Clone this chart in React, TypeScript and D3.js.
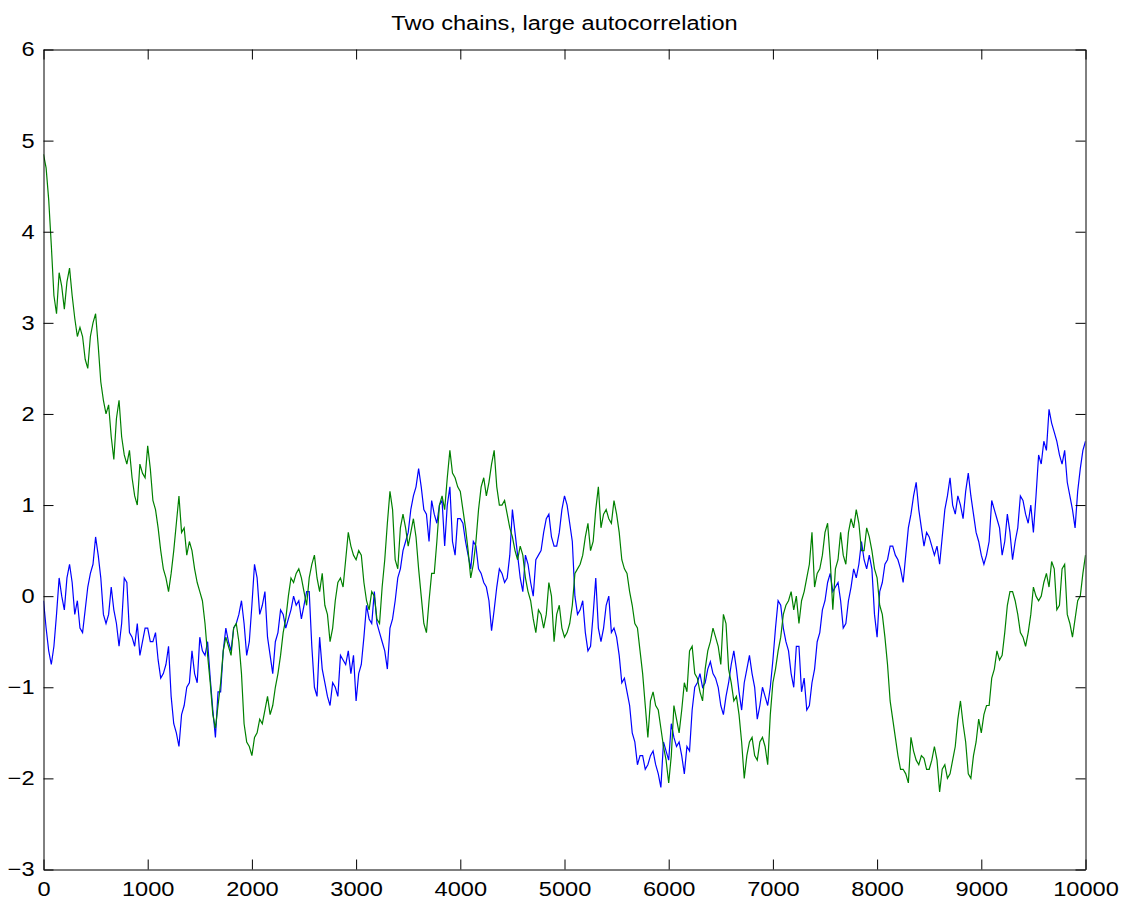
import React, { useEffect, useRef } from 'react';
import * as d3 from 'd3';

// Two MCMC chains. Each chain is stored as two interleaved sample sets:
// states at iterations 0, 50, 100, ... and states at iterations 25, 75, 125, ...
const TITLE = 'Two chains, large autocorrelation';
const STEP = 50;
const X_TICKS = [0, 1000, 2000, 3000, 4000, 5000, 6000, 7000, 8000, 9000, 10000];
const Y_TICKS = [-3, -2, -1, 0, 1, 2, 3, 4, 5, 6];

const blueAt50 = [
  -0.05, -0.6, -0.55, 0.2, -0.15, 0.35, -0.2, -0.35, -0.15, 0.25, 0.65,
  0.2, -0.3, 0.1, -0.3, -0.3, 0.15, -0.45, -0.3, -0.5, -0.35,
  -0.5, -0.7, -0.85, -0.55, -1.4, -1.65, -1.2, -0.95, -0.85, -0.45,
  -0.65, -0.9, -1.55, -1.05, -0.35, -0.6, -0.3, -0.05, -0.65, -0.1,
  0.2, -0.1, -0.45, -0.85, -0.4, -0.2, -0.25, 0.0, -0.05, -0.1,
  0.05, -1.0, -0.45, -0.95, -1.2, -1.0, -0.65, -0.75, -0.85, -1.15,
  -0.75, -0.1, -0.3, -0.3, -0.5, -0.8, -0.25, 0.2, 0.5, 0.7,
  1.1, 1.4, 0.95, 0.6, 0.9, 1.0, 0.55, 1.2, 0.45, 0.85,
  0.6, 0.3, 0.55, 0.25, 0.1, -0.38, 0.1, 0.25, 0.2, 0.95,
  0.45, 0.05, 0.35, 0.0, 0.45, 0.7, 0.9, 0.55, 0.7, 1.1,
  0.8, 0.0, -0.15, -0.4, -0.55, 0.2, -0.5, -0.1, -0.4, -0.45,
  -0.95, -1.05, -1.5, -1.85, -1.75, -1.85, -1.7, -1.95, -1.6, -1.8,
  -1.55, -1.6, -1.95, -1.7, -1.0, -0.85, -0.95, -0.72, -0.9, -1.2,
  -1.1, -0.75, -0.8, -1.25, -0.8, -0.85, -1.35, -1.0, -1.2, -0.7,
  -0.05, -0.35, -0.6, -1.0, -0.55, -0.9, -1.2, -0.8, -0.4, -0.05,
  0.25, 0.1, -0.05, -0.3, 0.1, 0.2, 0.6, 0.3, 0.3, -0.45,
  0.15, 0.4, 0.55, 0.4, 0.15, 0.75, 1.1, 0.95, 0.55, 0.65,
  0.45, 0.35, 0.95, 1.3, 0.9, 1.0, 1.15, 1.1, 0.7, 0.45,
  0.45, 1.05, 0.85, 0.45, 0.9, 0.4, 0.75, 1.05, 0.8, 0.7,
  1.55, 1.7, 2.05, 1.8, 1.55, 1.6, 1.1, 0.75, 1.4, 1.7,
];

const blueAt25 = [
  -0.35, -0.75, -0.2, 0.0, 0.2, 0.15, -0.05, -0.4, 0.1, 0.35,
  0.45, -0.2, -0.2, -0.15, -0.55, 0.2, -0.4, -0.55, -0.65, -0.35,
  -0.5, -0.4, -0.9, -0.75, -1.1, -1.5, -1.3, -1.0, -0.6, -0.95,
  -0.6, -0.5, -1.25, -1.05, -0.6, -0.5, -0.35, -0.2, -0.3, -0.5,
  0.35, -0.2, 0.05, -0.65, -0.5, -0.15, -0.35, -0.15, -0.1, -0.25,
  0.05, -0.55, -1.1, -0.8, -1.1, -0.95, -1.1, -0.7, -0.6, -0.65,
  -0.85, -0.45, -0.25, 0.05, -0.4, -0.6, -0.35, -0.05, 0.3, 0.6,
  0.95, 1.2, 1.2, 0.9, 1.05, 0.8, 1.05, 1.0, 0.6, 0.85,
  0.8, 0.45, 0.6, 0.3, 0.15, -0.05, -0.15, 0.3, 0.15, 0.45,
  0.7, 0.2, 0.45, 0.15, 0.4, 0.5, 0.85, 0.65, 0.55, 0.95,
  1.0, 0.6, -0.2, -0.05, -0.6, -0.2, -0.35, -0.35, 0.0, -0.35,
  -0.65, -0.9, -1.2, -1.6, -1.75, -1.9, -1.75, -1.85, -2.1, -1.7,
  -1.4, -1.65, -1.75, -1.65, -1.25, -0.95, -1.0, -0.8, -0.85, -1.0,
  -1.3, -0.95, -0.6, -1.05, -0.95, -0.65, -1.0, -1.2, -1.1, -1.0,
  -0.35, -0.1, -0.5, -0.85, -0.55, -1.05, -1.25, -0.95, -0.5, -0.15,
  0.15, 0.05, 0.15, -0.35, -0.05, 0.3, 0.35, 0.4, 0.45, -0.2,
  0.05, 0.35, 0.55, 0.45, 0.3, 0.45, 0.9, 1.25, 0.75, 0.7,
  0.55, 0.55, 0.65, 1.1, 1.0, 1.1, 0.85, 1.35, 0.9, 0.6,
  0.35, 0.6, 0.95, 0.75, 0.6, 0.7, 0.6, 1.1, 0.9, 1.0,
  1.1, 1.45, 1.6, 1.9, 1.7, 1.45, 1.25, 0.95, 1.15, 1.6,
];

const greenAt50 = [
  4.85, 4.35, 3.3, 3.55, 3.15, 3.6, 3.05, 2.95, 2.6, 2.85, 3.1,
  2.35, 2.0, 1.75, 1.95, 1.75, 1.45, 1.3, 1.0, 1.35, 1.65,
  1.05, 0.75, 0.3, 0.05, 0.5, 1.1, 0.75, 0.6, 0.3, 0.05,
  -0.3, -0.95, -1.45, -0.95, -0.45, -0.65, -0.3, -0.85, -1.6, -1.75,
  -1.5, -1.4, -1.1, -1.2, -0.85, -0.4, 0.0, 0.15, 0.3, 0.05,
  0.2, 0.45, 0.05, -0.1, -0.5, -0.05, 0.2, 0.4, 0.55, 0.4,
  0.45, -0.05, 0.05, -0.25, 0.1, 0.8, 0.95, 0.3, 0.9, 0.55,
  0.85, 0.3, -0.3, -0.05, 0.25, 1.0, 0.95, 1.6, 1.3, 1.15,
  0.75, 0.2, 0.6, 1.2, 1.1, 1.45, 1.2, 1.0, 0.9, 0.65,
  0.4, 0.45, 0.05, -0.25, -0.15, -0.35, 0.15, -0.5, -0.1, -0.45,
  -0.3, 0.25, 0.35, 0.65, 0.5, 0.95, 0.75, 0.95, 0.8, 0.9,
  0.4, 0.25, -0.1, -0.35, -0.85, -1.55, -1.05, -1.25, -1.65, -2.05,
  -1.2, -1.5, -0.95, -0.6, -0.85, -1.05, -0.8, -0.5, -0.45, -0.75,
  -0.3, -0.95, -1.1, -1.6, -1.75, -1.55, -1.8, -1.55, -1.85, -0.95,
  -0.6, -0.2, -0.05, -0.15, -0.3, 0.05, 0.35, 0.1, 0.3, 0.7,
  0.4, 0.3, 0.7, 0.35, 0.85, 0.95, 0.5, 0.75, 0.5, 0.2,
  -0.2, -0.75, -1.35, -1.75, -1.9, -2.05, -1.7, -1.85, -1.78, -1.9,
  -1.65, -2.15, -1.85, -1.95, -1.65, -1.15, -1.6, -2.0, -1.6, -1.5,
  -1.2, -0.9, -0.6, -0.65, -0.1, 0.05, -0.2, -0.45, -0.4, 0.1,
  -0.05, 0.15, 0.1, 0.3, -0.1, 0.35, -0.3, -0.25, 0.0, 0.45,
];

const greenAt25 = [
  4.7, 3.85, 3.1, 3.4, 3.45, 3.3, 2.85, 2.85, 2.5, 3.0,
  2.75, 2.15, 2.1, 1.5, 2.15, 1.55, 1.6, 1.1, 1.45, 1.3,
  1.4, 0.95, 0.5, 0.2, 0.25, 0.8, 0.7, 0.45, 0.5, 0.15,
  -0.05, -0.65, -1.3, -1.2, -0.6, -0.55, -0.35, -0.5, -1.4, -1.65,
  -1.55, -1.35, -1.25, -1.3, -1.0, -0.65, -0.25, 0.2, 0.25, 0.2,
  -0.1, 0.35, 0.2, 0.25, -0.2, -0.35, 0.15, 0.1, 0.7, 0.45,
  0.5, 0.15, -0.15, 0.0, -0.3, 0.4, 1.15, 0.4, 0.75, 0.75,
  0.7, 0.65, 0.0, -0.4, 0.25, 0.6, 1.1, 1.3, 1.35, 1.2,
  0.95, 0.5, 0.35, 0.95, 1.3, 1.25, 1.6, 1.0, 1.05, 0.75,
  0.5, 0.55, 0.2, -0.05, -0.4, -0.2, -0.2, 0.0, -0.2, -0.35,
  -0.4, -0.1, 0.3, 0.45, 0.8, 0.6, 1.2, 0.9, 0.85, 1.05,
  0.7, 0.3, 0.05, -0.3, -0.6, -1.2, -1.15, -1.2, -1.45, -1.8,
  -1.75, -1.35, -1.25, -1.05, -0.55, -0.9, -1.15, -0.6, -0.35, -0.55,
  -0.2, -0.8, -1.15, -1.3, -2.0, -1.6, -1.75, -1.6, -1.65, -1.3,
  -0.8, -0.45, -0.1, 0.05, 0.0, -0.05, 0.2, 0.7, 0.25, 0.45,
  0.8, -0.15, 0.4, 0.45, 0.7, 0.75, 0.8, 0.5, 0.65, 0.3,
  -0.1, -0.45, -1.15, -1.55, -1.9, -1.95, -1.55, -1.8, -1.75, -1.9,
  -1.8, -1.8, -1.9, -2.0, -1.8, -1.35, -1.4, -1.95, -1.75, -1.35,
  -1.3, -1.2, -0.8, -0.7, -0.4, 0.05, -0.05, -0.4, -0.55, -0.2,
  0.0, 0.0, 0.25, 0.38, -0.15, 0.3, -0.2, -0.45, -0.05, 0.25,
];

const SERIES = [
  { name: 'chain 1', at50: blueAt50, at25: blueAt25, color: '#0000ff' },
  { name: 'chain 2', at50: greenAt50, at25: greenAt25, color: '#008000' },
];

const FONT = '"Liberation Sans", Arial, Helvetica, sans-serif';
const FONT_SIZE = 20;
const TEXT_STRETCH = 1.18;

type Sample = { iter: number; value: number };

function interleave(at50: number[], at25: number[]): Sample[] {
  const out: Sample[] = [];
  at50.forEach((v, i) => {
    out.push({ iter: i * STEP, value: v });
    if (i < at25.length) out.push({ iter: i * STEP + STEP / 2, value: at25[i] });
  });
  return out;
}

export default function App() {
  const ref = useRef<SVGSVGElement>(null);

  useEffect(() => {
    document.body.style.margin = '0';
    const svg = d3.select(ref.current);
    svg.selectAll('*').remove();

    const width = 1125;
    const height = 904;
    const left = 43.5;
    const right = 1085.5;
    const top = 49.5;
    const bottom = 869.5;

    const x = d3.scaleLinear().domain([0, 10000]).range([left, right]);
    const y = d3.scaleLinear().domain([-3, 6]).range([bottom, top]);

    svg.append('rect').attr('width', width).attr('height', height).attr('fill', '#fff');

    svg.append('defs').append('clipPath').attr('id', 'plot-clip')
      .append('rect')
      .attr('x', left).attr('y', top)
      .attr('width', right - left).attr('height', bottom - top);

    const line = d3.line<Sample>()
      .x((d) => x(d.iter))
      .y((d) => y(d.value));

    const plot = svg.append('g').attr('clip-path', 'url(#plot-clip)');
    SERIES.forEach((s) => {
      plot.append('path')
        .datum(interleave(s.at50, s.at25))
        .attr('fill', 'none')
        .attr('stroke', s.color)
        .attr('stroke-width', 1.2)
        .attr('d', line);
    });

    const styleAxis = (g: d3.Selection<SVGGElement, unknown, null, undefined>) => {
      g.selectAll('path').attr('stroke', '#000');
      g.selectAll('line').attr('stroke', '#000');
      g.selectAll('text')
        .attr('fill', '#000')
        .style('font-family', FONT)
        .style('font-size', `${FONT_SIZE}px`);
    };

    svg.append('g')
      .attr('transform', `translate(0,${bottom})`)
      .call(d3.axisBottom(x).tickValues(X_TICKS).tickSizeInner(-10).tickSizeOuter(0).tickPadding(12).tickFormat(d3.format('d')))
      .call(styleAxis);
    svg.append('g')
      .attr('transform', `translate(0,${top})`)
      .call(d3.axisTop(x).tickValues(X_TICKS).tickSizeInner(-10).tickSizeOuter(0).tickFormat(() => ''))
      .call(styleAxis);
    svg.append('g')
      .attr('transform', `translate(${left},0)`)
      .call(d3.axisLeft(y).tickValues(Y_TICKS).tickSizeInner(-10).tickSizeOuter(0).tickPadding(9).tickFormat(d3.format('d')))
      .call(styleAxis);
    svg.append('g')
      .attr('transform', `translate(${right},0)`)
      .call(d3.axisRight(y).tickValues(Y_TICKS).tickSizeInner(-10).tickSizeOuter(0).tickFormat(() => ''))
      .call(styleAxis);

    svg.append('text')
      .attr('class', 'chart-title')
      .attr('x', (left + right) / 2)
      .attr('y', 30)
      .attr('text-anchor', 'middle')
      .style('font-family', FONT)
      .style('font-size', `${FONT_SIZE}px`)
      .attr('fill', '#000')
      .text(TITLE);

    // Widen every label a little: the lettering is broader than the stock face.
    svg.selectAll<SVGTextElement, unknown>('text').each(function () {
      const w = this.getComputedTextLength();
      if (w > 0) {
        d3.select(this)
          .attr('textLength', w * TEXT_STRETCH)
          .attr('lengthAdjust', 'spacingAndGlyphs');
      }
    });
  }, []);

  return <svg ref={ref} width={1125} height={904} style={{ display: 'block' }} />;
}
